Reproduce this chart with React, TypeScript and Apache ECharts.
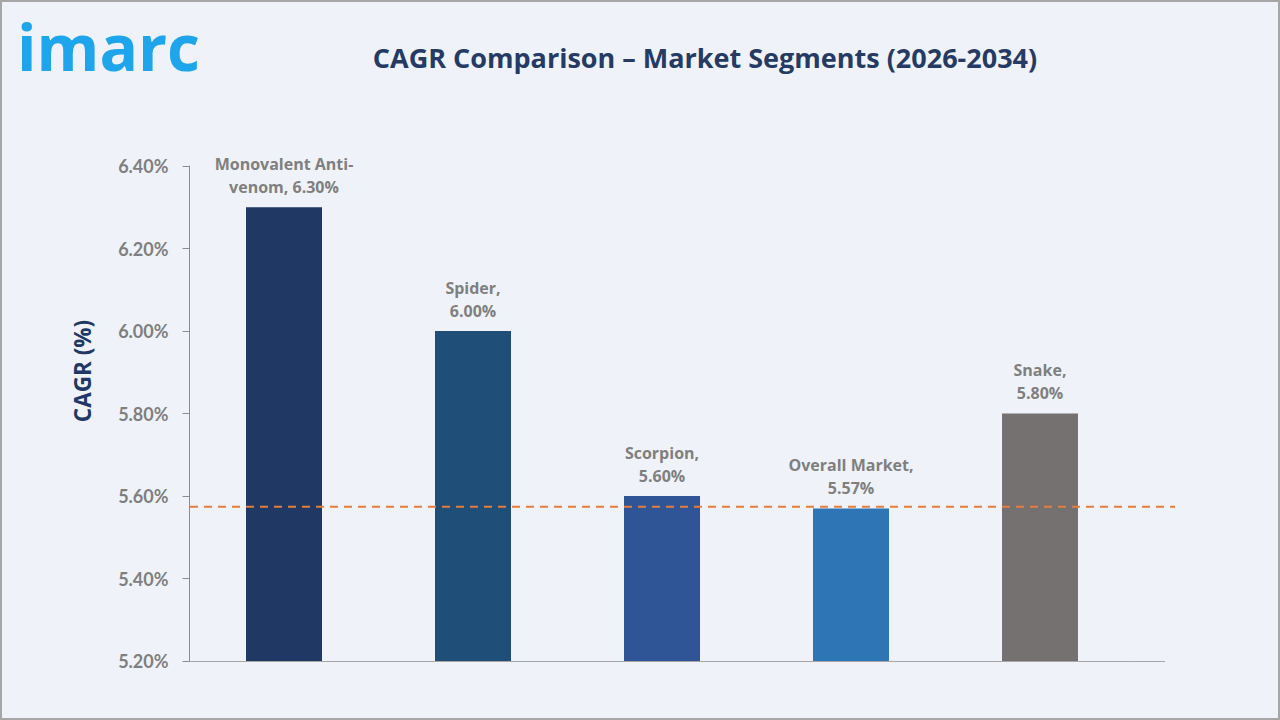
import React, { useEffect, useRef } from "react";
import * as echarts from "echarts";

// Segment CAGR values (%), 2026-2034
const categories = ["Monovalent Anti-venom", "Spider", "Scorpion", "Overall Market", "Snake"];
const labelTexts = ["Monovalent Anti-\nvenom, 6.30%", "Spider,\n6.00%", "Scorpion,\n5.60%", "Overall Market,\n5.57%", "Snake,\n5.80%"];
const cagrValues = [6.3, 6.0, 5.6, 5.57, 5.8];
const barColors = ["#203864", "#1f4e79", "#2f5597", "#2e75b6", "#767171"];
const overallMarket = 5.574;
const yMin = 5.2;
const yMax = 6.4;
const yStep = 0.2;

const FONT = "Lato, 'Noto Sans', sans-serif";
const WIDE_FONT = "'Open Sans', 'Noto Sans', sans-serif";

export default function App() {
  const ref = useRef<HTMLDivElement>(null);

  useEffect(() => {
    if (!ref.current) return;
    const chart = echarts.init(ref.current, undefined, { renderer: "svg" });
    const gridLeft = 189.5;
    const gridTop = 166;
    const gridWidth = 945;
    const gridHeight = 495;

    chart.setOption({
      animation: false,
      backgroundColor: "#eff3f9",
      grid: { left: gridLeft, top: gridTop, width: gridWidth, height: gridHeight },
      title: {
        text: "CAGR Comparison – Market Segments (2026-2034)",
        left: 700,
        top: 39,
        textAlign: "center",
        textStyle: { fontFamily: WIDE_FONT, fontSize: 27, fontWeight: "bold", color: "#253b64" },
      },
      xAxis: {
        type: "category",
        data: categories,
        axisLine: { show: true, lineStyle: { color: "#a6a6a6", width: 1 } },
        axisTick: { show: false },
        axisLabel: { show: false },
      },
      yAxis: {
        type: "value",
        min: yMin,
        max: yMax,
        interval: yStep,
        axisLine: { show: true, lineStyle: { color: "#8c8c8c", width: 1 } },
        axisTick: { show: true, length: 7, lineStyle: { color: "#8c8c8c" } },
        splitLine: { show: false },
        axisLabel: {
          fontFamily: FONT,
          fontSize: 18,
          fontWeight: "bold",
          color: "#7f7f7f",
          margin: 21,
          formatter: (v: number) => v.toFixed(2) + "%",
        },
      },
      series: [
        {
          type: "bar",
          barWidth: 76,
          data: cagrValues.map((v, i) => ({ value: v, itemStyle: { color: barColors[i] } })),
          label: {
            show: true,
            position: "top",
            distance: 9,
            fontFamily: WIDE_FONT,
            fontSize: 16,
            fontWeight: "bold",
            color: "#7f7f7f",
            lineHeight: 23,
            align: "center",
            formatter: (p: any) => labelTexts[p.dataIndex],
          },
        },
      ],
    });

    const [, yLine] = chart.convertToPixel({ xAxisIndex: 0, yAxisIndex: 0 }, [0, overallMarket]);
    const [, yBase] = chart.convertToPixel({ xAxisIndex: 0, yAxisIndex: 0 }, [0, yMin]);

    chart.setOption({
      graphic: [
        {
          type: "rect",
          shape: { x: 1, y: 1, width: 1278, height: 718 },
          style: { fill: "none", stroke: "#a6a6a6", lineWidth: 2 },
          silent: true,
        },
        {
          type: "text",
          x: 17,
          y: 14,
          style: {
            text: "imarc",
            fontFamily: WIDE_FONT,
            fontSize: 64,
            fontWeight: "bold",
            fill: "#1ea5ec",
          },
        },
        {
          type: "text",
          x: 82,
          y: 371,
          rotation: Math.PI / 2,
          style: {
            text: "CAGR (%)",
            fontFamily: WIDE_FONT,
            fontSize: 22.5,
            fontWeight: "bold",
            fill: "#203864",
            align: "center",
            verticalAlign: "middle",
          },
        },
        {
          type: "line",
          shape: { x1: gridLeft + gridWidth, y1: Math.round(yBase) + 0.5, x2: 1165, y2: Math.round(yBase) + 0.5 },
          style: { stroke: "#a6a6a6", lineWidth: 1 },
        },
        {
          type: "line",
          z: 10,
          shape: { x1: 190, y1: yLine, x2: 1175, y2: yLine },
          style: { stroke: "#e57e3a", lineWidth: 2, lineDash: [8, 6] },
        },
      ],
    });

    return () => chart.dispose();
  }, []);

  return (
    <div
      ref={ref}
      style={{ position: "fixed", left: 0, top: 0, width: 1280, height: 720 }}
    />
  );
}
